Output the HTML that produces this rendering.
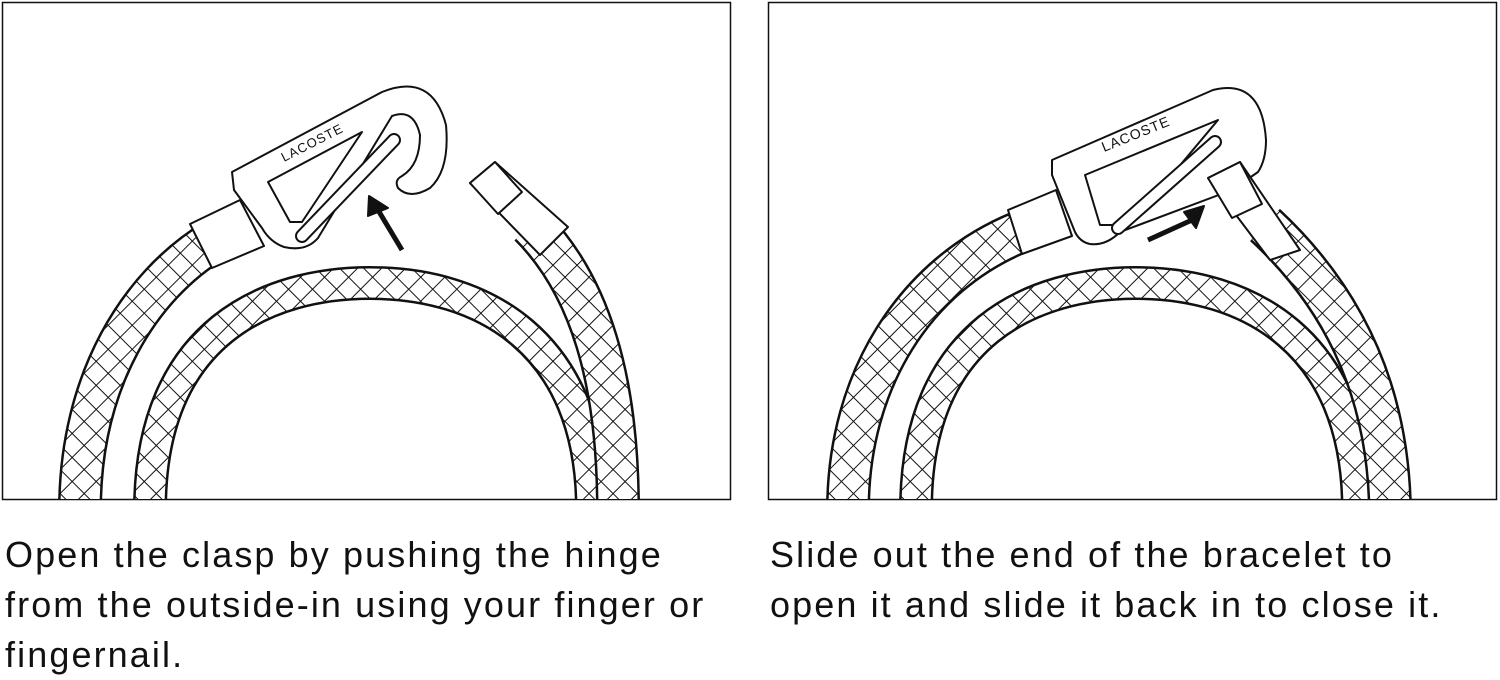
<!DOCTYPE html>
<html><head><meta charset="utf-8"><style>
html,body{margin:0;padding:0;background:#fff;width:1500px;height:679px;overflow:hidden}
.t{position:absolute;font-family:"Liberation Sans",sans-serif;font-size:36px;color:#111;line-height:50px;letter-spacing:2.1px}
</style></head><body>
<svg width="1500" height="679" style="position:absolute;left:0;top:0" xmlns="http://www.w3.org/2000/svg">
<defs>
<pattern id="h" width="17" height="17" patternUnits="userSpaceOnUse" patternTransform="rotate(45)">
<rect width="17" height="17" fill="#fff"/>
<line x1="0" y1="0" x2="0" y2="17" stroke="#111" stroke-width="2"/>
<line x1="0" y1="0" x2="17" y2="0" stroke="#111" stroke-width="2"/>
</pattern>
<clipPath id="c1"><rect x="3" y="3" width="727" height="496"/></clipPath>
<clipPath id="c2"><rect x="769" y="3" width="727" height="496"/></clipPath>
<g id="inner">
<path d="M150,510 C150,330 270,283 370,283 C480,283 592,340 592,510" fill="none" stroke="#111" stroke-width="34"/>
<path d="M150,510 C150,330 270,283 370,283 C480,283 592,340 592,510" fill="none" stroke="url(#h)" stroke-width="29"/>
</g>
</defs>
<rect x="2.5" y="2.5" width="728" height="497" fill="#fff" stroke="#111" stroke-width="1.5"/>
<rect x="768.5" y="2.5" width="728" height="497" fill="#fff" stroke="#111" stroke-width="1.5"/>
<g fill="#fff" stroke="#111" stroke-width="2" stroke-linejoin="round">
<g clip-path="url(#c1)">
<use href="#inner"/>
<path d="M80,510 C80,380 140,285 215,240" fill="none" stroke="#111" stroke-width="44"/>
<path d="M80,510 C80,380 140,285 215,240" fill="none" stroke="url(#h)" stroke-width="39"/>
<path d="M530,225 C590,285 618,380 618,510" fill="none" stroke="#111" stroke-width="44"/>
<path d="M530,225 C590,285 618,380 618,510" fill="none" stroke="url(#h)" stroke-width="39"/>
<polygon points="190,224 240,200 264,246 212,268"/>
<polygon points="470,183 495,162 568,227 540,255"/>
<polygon points="470,183 495,162 522,192 498,214"/>
<path d="M232,172 L382,92 Q432,72 446,125 Q450,170 430,188 Q410,200 398,188 Q394,180 402,176 Q420,165 420,135 Q414,108 392,116 L318,238 Q306,252 284,247 Q270,242 262,228 L234,190 Z"/>
<path d="M268,182 L362,132 L302,222 L290,222 Z"/>
<line x1="302" y1="236" x2="394" y2="140" stroke-width="14" stroke-linecap="round"/>
<line x1="302" y1="236" x2="394" y2="140" stroke="#fff" stroke-width="10" stroke-linecap="round"/>
<text x="0" y="0" transform="translate(284,162) rotate(-27)" font-family="Liberation Sans,sans-serif" font-size="13" fill="#111" stroke="none" letter-spacing="1">LACOSTE</text>
<path d="M402,250 L375,205" stroke="#111" stroke-width="5" fill="none"/>
<path d="M369,196 L388,208 L368,216 Z" fill="#111" stroke="#111"/>
</g>
<g clip-path="url(#c2)">
<g transform="translate(766,0)"><use href="#inner"/></g>
<path d="M848,510 C848,380 915,275 1020,232" fill="none" stroke="#111" stroke-width="44"/>
<path d="M848,510 C848,380 915,275 1020,232" fill="none" stroke="url(#h)" stroke-width="39"/>
<path d="M1265,225 C1335,290 1388,380 1390,510" fill="none" stroke="#111" stroke-width="44"/>
<path d="M1265,225 C1335,290 1388,380 1390,510" fill="none" stroke="url(#h)" stroke-width="39"/>
<polygon points="1008,210 1056,190 1072,236 1022,254"/>
<path d="M1052,160 L1213,90 Q1262,78 1266,140 Q1266,160 1258,172 L1232,190 L1120,232 Q1106,246 1090,244 Q1080,242 1075,232 L1052,175 Z"/>
<path d="M1085,175 L1218,120 L1130,225 L1100,225 Z"/>
<line x1="1118" y1="228" x2="1215" y2="142" stroke-width="14" stroke-linecap="round"/>
<line x1="1118" y1="228" x2="1215" y2="142" stroke="#fff" stroke-width="10" stroke-linecap="round"/>
<polygon points="1208,178 1240,162 1300,250 1270,260"/>
<polygon points="1208,178 1240,162 1262,204 1232,218"/>
<text x="0" y="0" transform="translate(1104,152) rotate(-22)" font-family="Liberation Sans,sans-serif" font-size="14" fill="#111" stroke="none" letter-spacing="1">LACOSTE</text>
<path d="M1148,240 L1192,220" stroke="#111" stroke-width="5" fill="none"/>
<path d="M1204,206 L1196,228 L1184,212 Z" fill="#111" stroke="#111"/>
</g>
</g>
</svg>
<div class="t" style="left:5px;top:530px">Open the clasp by pushing the hinge<br>from the outside-in using your finger or<br>fingernail.</div>
<div class="t" style="left:770px;top:530px">Slide out the end of the bracelet to<br>open it and slide it back in to close it.</div>
</body></html>
